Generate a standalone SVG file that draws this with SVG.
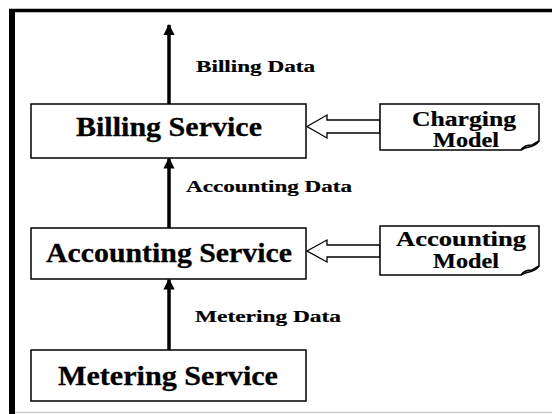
<svg xmlns="http://www.w3.org/2000/svg" width="552" height="414" viewBox="0 0 552 414">
<defs>
<style>
.box{fill:#fff;stroke:#000;stroke-width:1.5}
.svc{font-family:"Liberation Serif",serif;font-weight:bold;font-size:28px;fill:#000;stroke:#000;stroke-width:0.3}
.mdl{font-family:"Liberation Serif",serif;font-weight:bold;font-size:20px;fill:#000;stroke:#000;stroke-width:0.2}
.lbl{font-family:"Liberation Serif",serif;font-weight:bold;font-size:16px;fill:#000;stroke:#000;stroke-width:0.2}
.flow{stroke:#000;stroke-width:3.5;fill:none}
.hollow{fill:#fff;stroke:#000;stroke-width:1.3}
</style>
<marker id="ah" viewBox="0 0 10 10" refX="9" refY="5" markerWidth="3.2" markerHeight="3.4" orient="auto" markerUnits="strokeWidth">
<path d="M0,0 L10,5 L0,10 Z" fill="#000"/>
</marker>
</defs>
<rect width="552" height="414" fill="#fff"/>
<g id="frame">
<line x1="9" y1="10.5" x2="552" y2="10.5" stroke="#000" stroke-width="3.5"/>
<line x1="12" y1="9" x2="12" y2="414" stroke="#000" stroke-width="6"/>
<line x1="15" y1="412.5" x2="552" y2="412.5" stroke="#ccc" stroke-width="1.5"/>
</g>
<g id="connectors">
<line class="flow" x1="169" y1="104" x2="169" y2="25" marker-end="url(#ah)"/>
<line class="flow" x1="169" y1="228" x2="169" y2="158.5" marker-end="url(#ah)"/>
<line class="flow" x1="169" y1="350" x2="169" y2="279.5" marker-end="url(#ah)"/>
<path class="hollow" d="M307,126.5 L327,115 L327,120 L380,120 L380,133 L327,133 L327,138 Z"/>
<path class="hollow" d="M307,251 L327,240 L327,245 L380,245 L380,257 L327,257 L327,262 Z"/>
</g>
<g id="billing-service">
<rect class="box" x="31" y="104" width="275" height="54"/>
<text class="svc" x="76" y="136" textLength="186" lengthAdjust="spacingAndGlyphs">Billing Service</text>
</g>
<g id="accounting-service">
<rect class="box" x="31" y="228" width="275" height="51"/>
<text class="svc" x="46" y="262" textLength="246" lengthAdjust="spacingAndGlyphs">Accounting Service</text>
</g>
<g id="metering-service">
<rect class="box" x="31" y="350" width="275" height="51"/>
<text class="svc" x="58" y="384.5" textLength="220" lengthAdjust="spacingAndGlyphs">Metering Service</text>
</g>
<g id="charging-model">
<path class="box" stroke-width="2.5" d="M380,104 H539 V141 Q536,146 525,148 L521,150 H380 Z"/>
<path d="M521,150 Q524,145 532,145 L539,141" fill="none" stroke="#000" stroke-width="1.5"/>
<text class="mdl" x="412" y="125.5" textLength="104" lengthAdjust="spacingAndGlyphs">Charging</text>
<text class="mdl" x="433" y="147" textLength="66" lengthAdjust="spacingAndGlyphs">Model</text>
</g>
<g id="accounting-model">
<path class="box" stroke-width="2.5" d="M380,226 H539 V266 Q536,271 525,273 L521,275 H380 Z"/>
<path d="M521,275 Q524,270 532,270 L539,266" fill="none" stroke="#000" stroke-width="1.5"/>
<text class="mdl" x="396" y="246" textLength="130" lengthAdjust="spacingAndGlyphs">Accounting</text>
<text class="mdl" x="433" y="267.5" textLength="66" lengthAdjust="spacingAndGlyphs">Model</text>
</g>
<g id="labels">
<text class="lbl" x="196" y="71.5" textLength="119" lengthAdjust="spacingAndGlyphs">Billing Data</text>
<text class="lbl" x="186" y="192" textLength="166" lengthAdjust="spacingAndGlyphs">Accounting Data</text>
<text class="lbl" x="195" y="322" textLength="146" lengthAdjust="spacingAndGlyphs">Metering Data</text>
</g>
</svg>
